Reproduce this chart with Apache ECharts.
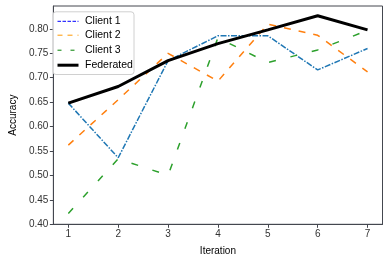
<!DOCTYPE html>
<html>
<head>
<meta charset="utf-8">
<script src="https://cdn.jsdelivr.net/npm/echarts@6/dist/echarts.min.js"></script>
<style>html,body{margin:0;padding:0;background:#fff}#c{width:389px;height:262px}</style>
</head>
<body>
<div id="c"></div>
<script>
var iterations = [1, 2, 3, 4, 5, 6, 7];
var client1 = [0.648, 0.536, 0.735, 0.786, 0.786, 0.716, 0.760];
var client2 = [0.562, 0.655, 0.750, 0.693, 0.810, 0.787, 0.712];
var client3 = [0.422, 0.534, 0.500, 0.782, 0.731, 0.757, 0.797];
var federated = [0.648, 0.682, 0.735, 0.770, 0.798, 0.827, 0.798];
var yTicks = [0.40, 0.45, 0.50, 0.55, 0.60, 0.65, 0.70, 0.75, 0.80];
var legendNames = ['Client 1', 'Client 2', 'Client 3', 'Federated'];

function pairs(v) { return iterations.map(function (x, i) { return [x, v[i]]; }); }

var axisColor = '#44474f';
var font = 'Liberation Sans, Arial, sans-serif';

// legend sample styles (as drawn in the reference legend)
var legendStyles = [
  {stroke: '#0000ff', lineWidth: 1, lineDash: [3.5, 1.5]},
  {stroke: '#ff9900', lineWidth: 1, lineDash: [5, 5]},
  {stroke: '#008000', lineWidth: 1, lineDash: [4, 9]},
  {stroke: '#000000', lineWidth: 3, lineDash: null}
];
var legendRowY = [21.3, 35.2, 50.2, 65.2];
var legendGraphics = [{
  type: 'rect', left: 52.5, top: 11.3, z: 10,
  shape: {width: 81, height: 62.7, r: 3},
  style: {fill: 'rgba(255,255,255,0.85)', stroke: '#d0d0d0', lineWidth: 1}
}];
legendNames.forEach(function (n, i) {
  legendGraphics.push({
    type: 'line', z: 11,
    shape: {x1: 57.5, y1: legendRowY[i], x2: 78.5, y2: legendRowY[i]},
    style: legendStyles[i]
  });
  legendGraphics.push({
    type: 'text', z: 11, x: 85, y: legendRowY[i],
    style: {text: n, fill: '#000', fontSize: 10.5, fontFamily: font, textVerticalAlign: 'middle', verticalAlign: 'middle'}
  });
});

var chart = echarts.init(document.getElementById('c'), null, {renderer: 'canvas'});
chart.setOption({
  animation: false,
  backgroundColor: '#fff',
  grid: {left: 48, top: 6, right: 6.5, bottom: 37.7, show: true, borderColor: axisColor, borderWidth: 1},
  xAxis: {
    type: 'value', min: 0.7, max: 7.3,
    name: 'Iteration', nameLocation: 'middle', nameGap: 22,
    nameTextStyle: {color: '#000', fontSize: 10, fontFamily: font},
    axisLine: {show: true, lineStyle: {color: axisColor}},
    axisTick: {show: true, length: 3.5, lineStyle: {color: axisColor}, customValues: iterations},
    axisLabel: {color: '#333', fontSize: 10, fontFamily: font, margin: 5, customValues: iterations},
    splitLine: {show: false}
  },
  yAxis: {
    type: 'value', min: 0.3997, max: 0.847,
    name: 'Accuracy', nameLocation: 'middle', nameGap: 34, nameRotate: 90,
    nameTextStyle: {color: '#000', fontSize: 10, fontFamily: font},
    axisLine: {show: true, lineStyle: {color: axisColor}},
    axisTick: {show: true, length: 3.5, lineStyle: {color: axisColor}, customValues: yTicks},
    axisLabel: {color: '#333', fontSize: 10, fontFamily: font, margin: 5, customValues: yTicks,
      formatter: function (v) { return v.toFixed(2); }},
    splitLine: {show: false}
  },
  graphic: legendGraphics,
  series: [
    {name: 'Client 1', type: 'line', data: pairs(client1), symbol: 'none', color: '#1f77b4',
      lineStyle: {color: '#1f77b4', width: 1.5, type: [6, 1.5, 1.5, 1.5]}},
    {name: 'Client 2', type: 'line', data: pairs(client2), symbol: 'none', color: '#ff7f0e',
      lineStyle: {color: '#ff7f0e', width: 1.5, type: [7, 8]}},
    {name: 'Client 3', type: 'line', data: pairs(client3), symbol: 'none', color: '#2ca02c',
      lineStyle: {color: '#2ca02c', width: 1.5, type: [7, 15]}},
    {name: 'Federated', type: 'line', data: pairs(federated), symbol: 'none', color: '#000',
      lineStyle: {color: '#000', width: 3}, z: 3}
  ]
});
</script>
</body>
</html>
